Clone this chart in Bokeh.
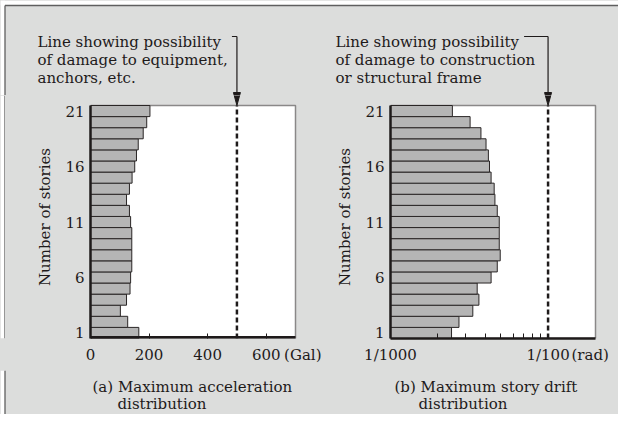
import math
from bokeh.plotting import figure
from bokeh.models import FixedTicker, Range1d, ColumnDataSource
from bokeh.layouts import row, column
from bokeh.embed import file_html
from bokeh.resources import INLINE
from bokeh.core.properties import value

# ---------------- data ----------------
stories = list(range(1, 22))
accel_gal = [165, 127, 102, 123, 135, 137, 141, 141, 141, 141, 137,
             133, 123, 133, 142, 151, 157, 163, 180, 192, 203]
drift_rad = [2.44e-3, 2.72e-3, 3.33e-3, 3.64e-3, 3.55e-3, 4.35e-3, 4.76e-3,
             4.97e-3, 4.90e-3, 4.90e-3, 4.90e-3, 4.76e-3, 4.60e-3, 4.55e-3,
             4.35e-3, 4.25e-3, 4.18e-3, 4.04e-3, 3.75e-3, 3.20e-3, 2.47e-3]
story_ticks = [1, 6, 11, 16, 21]
accel_ticks = [0, 200, 400, 600]
accel_unit_tick, accel_unit = 725, "(Gal)"
drift_major = [0.001, 0.01]
drift_major_labels = ["1/1000", "1/100"]
drift_unit_tick, drift_unit = 0.0185, "(rad)"
drift_minor = [0.002, 0.003, 0.004, 0.005, 0.006, 0.007, 0.008, 0.009]
accel_limit = 500
drift_limit = 0.01
accel_max = 700
drift_min, drift_max = 0.001, 0.02

note_a = ["Line showing possibility", "of damage to equipment,", "anchors, etc."]
note_b = ["Line showing possibility", "of damage to construction", "or structural frame"]
caption_a = ["(a) Maximum acceleration", "distribution"]
caption_b = ["(b) Maximum story drift", "distribution"]

# ---------------- style / layout ----------------
BG = "#dcdddc"
EDGE = "#5f5f5f"
FONT = "DejaVu Serif"
FS = "15px"
DARK = "#1e1a1a"
BAR_FILL = "#b5b5b5"
BAR_LINE = "#2a2626"
BOX_LINE = "#8a8888"

TOTAL_W = 618
MID_TOP = 95          # page y where the panel canvases start
BOX_TOP = 105         # page y of the top of both plot boxes
BOX_BOTTOM = 338
MID_BOTTOM = 370
FOOT_H = 414 - MID_BOTTOM
MID_H = MID_BOTTOM - MID_TOP
FRAME_H = BOX_BOTTOM - MID_TOP
PPU = (BOX_BOTTOM - BOX_TOP) / 21.0
Y_TOP = 21.5 + (BOX_TOP - MID_TOP) / PPU
EDGE_W = 5
P1_W, P2_W = 325, 288
ML1, ML2 = 85, 60
FW = 205
DEC = FW / math.log10(drift_max / drift_min)    # px per decade on panel (b)


def strip(w, h):
    p = figure(width=w, height=h, x_range=Range1d(0, w), y_range=Range1d(h, 0),
               output_backend="svg", toolbar_location=None,
               x_axis_location=None, y_axis_location=None,
               min_border_left=0, min_border_right=0, min_border_top=0,
               min_border_bottom=0)
    p.grid.visible = False
    p.outline_line_color = None
    p.background_fill_color = BG
    p.border_fill_color = BG
    return p


def panel(x_axis_type, x_range, w, ml):
    p = figure(width=w, height=MID_H, x_axis_type=x_axis_type, x_range=x_range,
               y_range=Range1d(0.5, Y_TOP), output_backend="svg", toolbar_location=None,
               min_border_left=ml, min_border_right=0, min_border_top=0,
               min_border_bottom=MID_H - FRAME_H)
    p.background_fill_color = BG
    p.border_fill_color = BG
    p.outline_line_color = None
    p.grid.visible = False
    ya = p.yaxis[0]
    ya.ticker = FixedTicker(ticks=story_ticks)
    ya.bounds = (0.5, 21.5)
    ya.axis_label = "Number of stories"
    ya.axis_label_text_font = FONT
    ya.axis_label_text_font_style = "normal"
    ya.axis_label_text_font_size = FS
    ya.axis_label_text_color = DARK
    ya.axis_label_standoff = 8
    ya.major_label_text_font = FONT
    ya.major_label_text_font_size = FS
    ya.major_label_text_color = DARK
    ya.major_label_standoff = 6
    ya.major_tick_line_color = None
    ya.major_tick_out = 0
    ya.major_tick_in = 0
    ya.minor_tick_line_color = None
    ya.axis_line_width = 2.5
    ya.axis_line_color = DARK
    xa = p.xaxis[0]
    xa.major_label_text_font = FONT
    xa.major_label_text_font_size = FS
    xa.major_label_text_color = DARK
    xa.major_label_standoff = 7
    xa.major_tick_line_color = None
    xa.major_tick_in = 0
    xa.major_tick_out = 0
    xa.minor_tick_in = 5
    xa.minor_tick_out = 0
    xa.minor_tick_line_color = DARK
    xa.minor_tick_line_width = 1
    xa.axis_line_width = 2.5
    xa.axis_line_color = DARK
    return p


def limit_marks(p, x, dx_lo, dx_hi):
    # dashed limit line inside the box + the lower part of the arrow head
    p.segment(x0=[x], y0=[0.5], x1=[x], y1=[21.5], line_color=DARK, line_width=2.5,
              line_dash="5 3")
    hb = 21.5 + 13 / PPU
    p.patch(x=[dx_lo, dx_hi, x], y=[hb, hb, 21.5], fill_color=DARK, line_color=DARK,
            line_width=1)


# ---------------- (a) acceleration ----------------
p1 = panel("linear", Range1d(0, accel_max * (P1_W - ML1) / FW), P1_W, ML1)
p1.quad(left=[0], right=[accel_max], bottom=[0.5], top=[21.5],
        fill_color="white", line_color=BOX_LINE, line_width=1.5)
src1 = ColumnDataSource(dict(story=stories, val=accel_gal))
p1.hbar(y="story", left=0, right="val", height=1, source=src1,
        fill_color=BAR_FILL, line_color=BAR_LINE, line_width=1)
p1.xaxis[0].ticker = FixedTicker(ticks=accel_ticks + [accel_unit_tick],
                                 minor_ticks=accel_ticks[1:])
p1.xaxis[0].major_label_overrides = {accel_unit_tick: accel_unit}
p1.xaxis[0].axis_line_color = None
p1.segment(x0=[0], y0=[0.5], x1=[accel_max], y1=[0.5], line_color=DARK, line_width=5)
g = 3.5 * accel_max / FW
limit_marks(p1, accel_limit, accel_limit - g, accel_limit + g)

# ---------------- (b) story drift ----------------
p2_end = drift_min * 10 ** ((P2_W - ML2) / DEC)
p2 = panel("log", Range1d(drift_min, p2_end), P2_W, ML2)
p2.quad(left=[drift_min], right=[drift_max], bottom=[0.5], top=[21.5],
        fill_color="white", line_color=BOX_LINE, line_width=1.5)
src2 = ColumnDataSource(dict(story=stories, val=drift_rad))
p2.hbar(y="story", left=drift_min, right="val", height=1, source=src2,
        fill_color=BAR_FILL, line_color=BAR_LINE, line_width=1)
p2.xaxis[0].ticker = FixedTicker(ticks=drift_major + [drift_unit_tick],
                                 minor_ticks=drift_minor)
p2.xaxis[0].bounds = (drift_min, drift_max)
overrides = dict(zip(drift_major, drift_major_labels))
overrides[drift_unit_tick] = drift_unit
p2.xaxis[0].major_label_overrides = overrides
f = 10 ** (3.5 / DEC)
limit_marks(p2, drift_limit, drift_limit / f, drift_limit * f)

# page x of the two limit lines, from the panels' scales
xa1 = EDGE_W + ML1 + accel_limit / accel_max * FW
xa2 = EDGE_W + P1_W + ML2 + math.log10(drift_limit / drift_min) * DEC

# ---------------- header strip (notes + arrows) ----------------
head = strip(TOTAL_W, MID_TOP)
head.quad(left=[0, 0], right=[TOTAL_W, 4.5], top=[0, 0], bottom=[4.5, MID_TOP],
          fill_color="white", line_color=None)
head.segment(x0=[4.5, 4.5], y0=[5, 5], x1=[TOTAL_W, 4.5], y1=[5, MID_TOP],
             line_color=EDGE, line_width=1.3)
note_x = [37] * 3 + [335] * 3
note_y = [41, 59, 77] * 2
head.text(x=note_x, y=note_y, text=note_a + note_b, text_font=value(FONT),
          text_font_size=value(FS), text_color=DARK, text_align="left",
          text_baseline="middle")
hook_y = 36
head.segment(x0=[xa1 - 5, xa2 - 24], y0=[hook_y, hook_y], x1=[xa1, xa2], y1=[hook_y, hook_y],
             line_color=DARK, line_width=1.2)
head.segment(x0=[xa1, xa2], y0=[hook_y, hook_y], x1=[xa1, xa2], y1=[MID_TOP, MID_TOP],
             line_color=DARK, line_width=1.2)
head.patches(xs=[[xa1 - 3.5, xa1 + 3.5, xa1], [xa2 - 3.5, xa2 + 3.5, xa2]],
             ys=[[BOX_TOP - 13, BOX_TOP - 13, BOX_TOP], [BOX_TOP - 13, BOX_TOP - 13, BOX_TOP]],
             fill_color=DARK, line_color=DARK, line_width=1)

# ---------------- left edge of the middle row ----------------
edge = strip(EDGE_W, MID_H)
edge.quad(left=[0], right=[4.5], top=[0], bottom=[MID_H], fill_color="white", line_color=None)
edge.segment(x0=[4.5], y0=[0], x1=[4.5], y1=[MID_H], line_color=EDGE, line_width=1.3)

# ---------------- footer strip (captions) ----------------
foot = strip(TOTAL_W, FOOT_H)
foot.quad(left=[0], right=[4.5], top=[0], bottom=[FOOT_H], fill_color="white", line_color=None)
foot.segment(x0=[4.5], y0=[0], x1=[4.5], y1=[FOOT_H], line_color=EDGE, line_width=1.3)
foot.text(x=[92, 117, 394, 418], y=[16, 33.5, 16, 33.5],
          text=caption_a + caption_b, text_font=value(FONT), text_font_size=value(FS),
          text_color=DARK, text_align="left", text_baseline="middle")

layout = column(head, row(edge, p1, p2, styles={"background-color": BG}),
                foot, styles={"background-color": BG})

open("out.html", "w").write(file_html(layout, INLINE))
